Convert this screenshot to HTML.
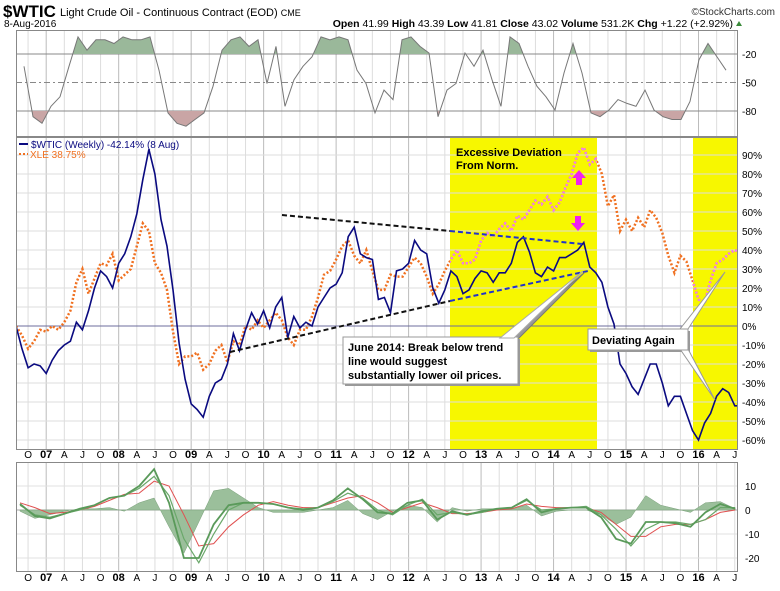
<!DOCTYPE html>
<html><head><meta charset="utf-8"><style>
body{margin:0;background:#fff;font-family:"Liberation Sans",sans-serif;}
svg text{font-family:"Liberation Sans",sans-serif;}
</style></head><body>
<svg id="c" width="780" height="586" xmlns="http://www.w3.org/2000/svg">
<defs>
<clipPath id="mainClip"><rect x="16" y="137" width="721" height="313"/></clipPath>
<clipPath id="yelClip"><rect x="450" y="137" width="147" height="313"/><rect x="693" y="137" width="44" height="313"/></clipPath>
<clipPath id="topAbove"><rect x="16" y="30" width="721" height="24"/></clipPath>
<clipPath id="topBelow"><rect x="16" y="111" width="721" height="26"/></clipPath>
<clipPath id="botClip"><rect x="16" y="462" width="721" height="109"/></clipPath>
</defs>
<g id="header">
<text x="3" y="17" font-size="17" font-weight="bold">$WTIC</text>
<text x="60" y="16" font-size="11">Light Crude Oil - Continuous Contract (EOD) <tspan font-size="9">CME</tspan></text>
<text x="4" y="27" font-size="10">8-Aug-2016</text>
<text x="775" y="15" font-size="10" text-anchor="end" fill="#333">©StockCharts.com</text>
<text x="733" y="27" font-size="10.5" text-anchor="end"><tspan font-weight="bold">Open</tspan> 41.99 <tspan font-weight="bold">High</tspan> 43.39 <tspan font-weight="bold">Low</tspan> 41.81 <tspan font-weight="bold">Close</tspan> 43.02 <tspan font-weight="bold">Volume</tspan> 531.2K <tspan font-weight="bold">Chg</tspan> +1.22 (+2.92%)</text>
<polygon points="736,26 742,26 739,21" fill="#3a8a3a"/>
</g>
<g id="grids"></g>
<g id="top"></g>
<g id="main"></g>
<g id="bot"></g>
<g id="frames" fill="none" stroke="#888">
<rect x="16.5" y="30.5" width="721" height="106"/>
<rect x="16.5" y="137.5" width="721" height="312"/>
<rect x="16.5" y="462.5" width="721" height="109"/>
</g>
</svg>
<script>
const wticPct = [0,-12,-22,-20,-21,-25,-18,-13,-10,-8,2,-2,8,20,29,26,20,33,38,47,59,77,93,80,56,42,19,-9,-28,-41,-44,-48,-37,-30,-28,-20,-4,-13,-2,7,1,8,-1,10,15,-6,5,-1,2,0,10,15,20,22,28,47,52,38,36,35,14,15,7,29,30,33,45,40,38,20,12,19,29,26,17,19,25,29,28,23,28,28,33,44,47,39,28,26,31,29,36,36,38,40,44,31,28,23,10,1,-20,-25,-32,-36,-28,-20,-20,-30,-42,-37,-37,-46,-55,-60,-51,-46,-37,-33,-35,-42,-42];
const xlePct = [0,-5,-12,-8,-2,-3,0,-2,2,8,23,30,17,25,33,32,38,24,27,30,42,54,50,33,28,19,-3,-20,-16,-16,-14,-23,-20,-13,-10,-19,-8,-10,0,-2,3,-1,3,7,3,-6,-10,-2,-2,5,15,27,29,35,42,45,37,33,40,29,19,19,27,26,26,31,36,33,26,17,22,29,35,40,33,33,35,45,49,47,51,54,50,58,56,61,66,64,68,61,65,73,80,91,94,85,88,80,63,69,50,56,50,57,52,61,57,49,37,28,37,34,24,14,12,24,33,35,38,40,38];
const oscVals = [-33,-86,-93,-75,-65,-33,-2,-16,-5,-5,-9,-2,-5,-5,-2,-37,-82,-93,-96,-89,-82,-54,-16,-5,-2,-12,-5,-51,-12,-75,-47,-33,-23,-2,-5,-2,-5,-37,-51,-82,-58,-68,-5,-2,-12,-19,-86,-58,-51,-19,-33,-16,-47,-75,-2,-9,-33,-54,-65,-79,-40,-9,-40,-82,-86,-79,-68,-72,-75,-58,-79,-86,-89,-89,-70,-26,-9,-23,-37];
const macdLine = [2.5,-2.5,-3.5,-1.5,0.5,2,5,6,10,17,3,-20,-20,-6,2,3,3,2.5,1,0,1,4,9,4.5,-1,-1.5,3,4,-4,-0.5,-2,-0.5,0.5,1,4.5,-1,0.5,1,1,-3,-12,-14,-5,-5,-5.5,-7,-1,2.5,0.5];
const macdLine2 = [2,-2,-3,-1.5,0,2,5,6,9,14,6,-12,-22,-10,0,3,3,2.5,1,0.5,1,3.5,7,5,0,-2,2,4.5,-2,-1,-2,-1,0.5,1,4,0,0.5,1,1.5,-2,-8,-15,-8,-5,-5,-6,-4,1,1];
const signalLine = [3,1,-1.5,-1,0,1.5,4,6.5,7,12,10,-2,-15,-14,-7,-2,2,3.5,2,1,1,3,5,6,3,-1,1,3,1,-1.5,-1.5,-1,0,0.5,2.5,1.5,1,1,1,-1,-6,-11,-11,-7,-6,-6,-4,-1,0];
const pctTicks = [90,80,70,60,50,40,30,20,10,0,-10,-20,-30,-40,-50,-60];
const oscTicks = [-20,-50,-80];
const macdTicks = [10,0,-10,-20];
const monthLabels = ["O","07","A","J","O","08","A","J","O","09","A","J","O","10","A","J","O","11","A","J","O","12","A","J","O","13","A","J","O","14","A","J","O","15","A","J","O","16","A","J"];

const NS="http://www.w3.org/2000/svg";
const xm = m => 16 + m*6.04;
const yP = v => 326 - v*1.9;
const xo = i => 24 + i*9;
const yO = v => 54 + (-20 - v)*0.95;
const xb = i => 20 + i*14.9;
const yB = v => 510 - v*2.4;
function el(tag, attrs, parent){const e=document.createElementNS(NS,tag);for(const k in attrs)e.setAttribute(k,attrs[k]);parent.appendChild(e);return e;}
function pathOf(arr, fx, fy){return arr.map((v,i)=>(i?'L':'M')+fx(i).toFixed(1)+','+fy(v).toFixed(1)).join('');}
const G=document.getElementById('grids'), T=document.getElementById('top'), M=document.getElementById('main'), B=document.getElementById('bot');

monthLabels.forEach((lab,k)=>{
  const x = xm(2+3*k);
  const isYear = /\d/.test(lab);
  const c = isYear ? '#bbb' : '#ddd';
  [[31,136],[138,449],[463,571]].forEach(r=>{
    const ln=el('line',{x1:x,x2:x,y1:r[0],y2:r[1],stroke:c,'stroke-width':1},G);
    
    
  });
  [458,581].forEach(yy=>{
    const t=el('text',{x:x,y:yy,'font-size':isYear?11:10,'font-weight':isYear?'bold':'normal','text-anchor':'middle'},G);
    t.textContent=lab;
    
    
  });
});
[[450,147],[693,44]].forEach(r=>{
  const rc=el('rect',{x:r[0],y:138,width:r[1],height:312,fill:'#f7f700'},G);
  
  
});
pctTicks.forEach(v=>{
  const y=yP(v);
  const ln=el('line',{x1:16,x2:737,y1:y,y2:y,stroke:v===0?'#6c6c9c':'#ddd','stroke-width':1},G);
  
  
  const t=el('text',{x:742,y:y+4,'font-size':10},G);
  t.textContent=v+'%';
  
  
});
oscTicks.forEach(v=>{
  const y=yO(v);
  const ln=el('line',{x1:16,x2:737,y1:y,y2:y,stroke:'#888','stroke-dasharray':v===-50?'6,3,2,3':'none'},T);
  
  
  const t=el('text',{x:742,y:y+4,'font-size':10},T);
  t.textContent=v;
  
  
});
const oscPath=pathOf(oscVals,xo,yO);
const lastX=xo(oscVals.length-1).toFixed(1), firstX=xo(0);
const fillUp=el('path',{d:oscPath+`L${lastX},${yO(-20)}L${firstX},${yO(-20)}Z`,fill:'#9ab89a','clip-path':'url(#topAbove)'},T);


const fillDn=el('path',{d:oscPath+`L${lastX},${yO(-80)}L${firstX},${yO(-80)}Z`,fill:'#c9a5a5','clip-path':'url(#topBelow)'},T);


const oscLine=el('path',{d:oscPath,fill:'none',stroke:'#777','stroke-width':1},T);



const xleD=pathOf(xlePct,xm,yP);
const xle=el('path',{d:xleD,fill:'none',stroke:'#f07020','stroke-width':2.5,'stroke-dasharray':'2,2','clip-path':'url(#mainClip)'},M);


const xleP=el('path',{d:xleD,fill:'none',stroke:'#f080f0','stroke-width':2.5,'stroke-dasharray':'2,2','clip-path':'url(#yelClip)'},M);


const wt=el('path',{d:pathOf(wticPct,xm,yP),fill:'none',stroke:'#0a0a80','stroke-width':1.6,'clip-path':'url(#mainClip)'},M);


[[282,215,450,231,'#111'],[450,231,582,244,'#2233cc'],[230,352,450,301,'#111'],[450,301,588,271,'#2233cc']].forEach(s=>{
  const ln=el('line',{x1:s[0],y1:s[1],x2:s[2],y2:s[3],stroke:s[4],'stroke-width':2,'stroke-dasharray':'5,3'},M);
  
  
});
const a1=el('polygon',{points:'579,170 586,178 582,178 582,185 576,185 576,178 572,178',fill:'#f020f0'},M);


const a2=el('polygon',{points:'575,216 581,216 581,223 585,223 578,231 571,223 575,223',fill:'#f020f0'},M);


const lg=el('g',{},M);
el('line',{x1:19,x2:28,y1:144,y2:144,stroke:'#0a0a80','stroke-width':2},lg);
let t1=el('text',{x:31,y:148,'font-size':10,fill:'#0a0a80'},lg);t1.textContent='$WTIC (Weekly) -42.14% (8 Aug)';


el('line',{x1:19,x2:28,y1:154,y2:154,stroke:'#f07020','stroke-width':2,'stroke-dasharray':'2,2'},lg);
let t2=el('text',{x:30,y:158,'font-size':10,fill:'#f07020'},lg);t2.textContent='XLE 38.75%';


const an=el('text',{x:456,y:156,'font-size':11,'font-weight':'bold'},M);
an.innerHTML='<tspan x="456">Excessive Deviation</tspan><tspan x="456" dy="13">From Norm.</tspan>';


const c1=el('g',{},M);
el('rect',{x:345,y:339,width:175,height:47,fill:'#999'},c1);
el('polygon',{points:'505,340 517,340 585,272',fill:'#999',stroke:'#777'},c1);
el('rect',{x:343,y:337,width:175,height:47,fill:'#fff',stroke:'#999'},c1);
el('polygon',{points:'500,338 514,338 583,271',fill:'#fff',stroke:'#aaa'},c1);
const ct=el('text',{x:348,y:351,'font-size':11,'font-weight':'bold'},c1);
ct.innerHTML='<tspan x="348">June 2014: Break below trend</tspan><tspan x="348" dy="14">line would suggest</tspan><tspan x="348" dy="14">substantially lower oil prices.</tspan>';
const c2=el('g',{},M);
el('rect',{x:590,y:331,width:100,height:21,fill:'#999'},c2);
el('polygon',{points:'680,329 688,329 725,272',fill:'#fff',stroke:'#999'},c2);
el('polygon',{points:'680,349 688,349 715,400',fill:'#fff',stroke:'#999'},c2);
el('rect',{x:588,y:329,width:100,height:21,fill:'#fff',stroke:'#999'},c2);
const c2t=el('text',{x:592,y:344,'font-size':11,'font-weight':'bold'},c2);c2t.textContent='Deviating Again';

macdTicks.forEach(v=>{
  const y=yB(v);
  const ln=el('line',{x1:16,x2:737,y1:y,y2:y,stroke:v===0?'#aaa':'#e0e0e0'},B);
  
  
  const t=el('text',{x:745,y:y+4,'font-size':10},B);
  t.textContent=v;
  
  
});
const hist=macdLine.map((v,i)=>v-signalLine[i]);
const hd=pathOf(hist,xb,yB)+`L${xb(hist.length-1)},${yB(0)}L${xb(0)},${yB(0)}Z`;
const h=el('path',{d:hd,fill:'#9bbf9b',stroke:'#7aa07a','stroke-width':0.5,'clip-path':'url(#botClip)'},B);


const sl=el('path',{d:pathOf(signalLine,xb,yB),fill:'none',stroke:'#e05050','stroke-width':1,'clip-path':'url(#botClip)'},B);


const m2=el('path',{d:pathOf(macdLine2,xb,yB),fill:'none',stroke:'#6aa86a','stroke-width':1.2,'clip-path':'url(#botClip)'},B);


const m1=el('path',{d:pathOf(macdLine,xb,yB),fill:'none',stroke:'#5a9a5a','stroke-width':1.8,'clip-path':'url(#botClip)'},B);


</script>
</body></html>
